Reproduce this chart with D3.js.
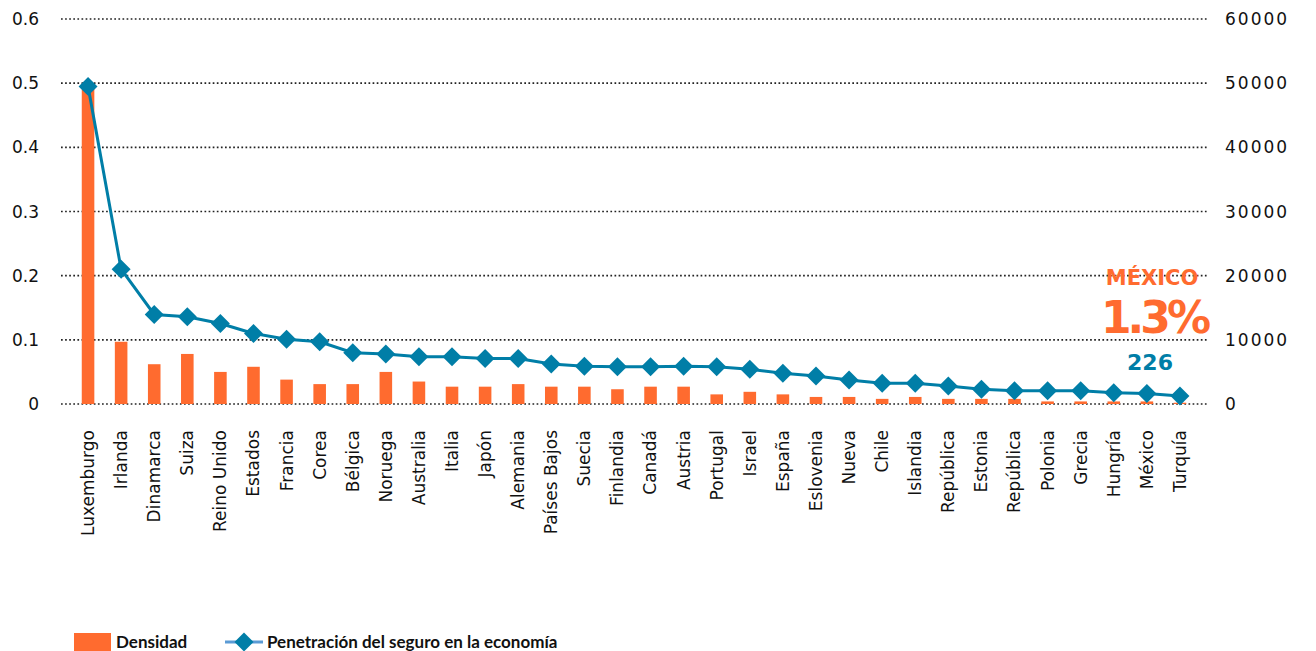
<!DOCTYPE html>
<html lang="es">
  <head>
    <meta charset="utf-8">
    <title>Densidad y penetración del seguro</title>
    <style>
      body { margin: 0; background: #fff; }
      svg { display: block; font-family: "DejaVu Sans", sans-serif; }
      .grid line { stroke: #222; stroke-width: 1.7px; stroke-dasharray: 1.7 2.4; }
      .tick-label { font-size: 17px; fill: #111; }
      .cat-label { font-size: 17px; fill: #111; }
      .legend text { font-family: Lato, sans-serif; font-size: 17px; font-weight: bold; fill: #111; }
    </style>
  </head>
  <body>
    <svg id="chart"></svg>

    <script src="https://cdn.jsdelivr.net/npm/d3@7"></script>
    <script>
      // ---- data ----
      var paises = ["Luxemburgo", "Irlanda", "Dinamarca", "Suiza", "Reino Unido", "Estados",
        "Francia", "Corea", "Bélgica", "Noruega", "Australia", "Italia", "Japón", "Alemania",
        "Países Bajos", "Suecia", "Finlandia", "Canadá", "Austria", "Portugal", "Israel",
        "España", "Eslovenia", "Nueva", "Chile", "Islandia", "República", "Estonia",
        "República ", "Polonia", "Grecia", "Hungría", "México", "Turquía"];

      // bars, left axis
      var densidad = [0.497, 0.097, 0.062, 0.078, 0.050, 0.058, 0.038, 0.031, 0.031, 0.050,
        0.035, 0.027, 0.027, 0.031, 0.027, 0.027, 0.023, 0.027, 0.027, 0.015, 0.019,
        0.015, 0.011, 0.011, 0.008, 0.011, 0.008, 0.008, 0.008, 0.004, 0.004, 0.004,
        0.004, 0.002];

      // line, right axis
      var penetracion = [49500, 21000, 13950, 13600, 12550, 11000, 10100, 9700, 8000, 7800,
        7350, 7350, 7100, 7100, 6250, 5900, 5800, 5800, 5900, 5800, 5400, 4800, 4350,
        3750, 3250, 3250, 2800, 2300, 2050, 2050, 2050, 1750, 1650, 1250];

      var leftTicks = [0, 0.1, 0.2, 0.3, 0.4, 0.5, 0.6];
      var rightTicks = [0, 10000, 20000, 30000, 40000, 50000, 60000];

      var naranja = "#ff6b2f",
          azul = "#007ea7";

      var width = 1316, height = 651;

      var svg = d3.select("#chart")
          .attr("width", width)
          .attr("height", height);

      var x = d3.scaleBand()
          .domain(paises)
          .range([71.5, 1196.5])
          .paddingInner(0.62)
          .paddingOuter(0.31);

      var yL = d3.scaleLinear().domain([0, 0.6]).range([404, 19]);
      var yR = d3.scaleLinear().domain([0, 60000]).range([404, 19]);

      // gridlines
      svg.append("g").attr("class", "grid")
        .selectAll("line")
        .data(leftTicks)
        .enter().append("line")
        .attr("x1", 61).attr("x2", 1208)
        .attr("y1", function(d) { return yL(d); })
        .attr("y2", function(d) { return yL(d); });

      // left axis labels
      svg.append("g")
        .selectAll("text")
        .data(leftTicks)
        .enter().append("text")
        .attr("class", "tick-label")
        .attr("x", 39)
        .attr("y", function(d) { return yL(d); })
        .attr("dy", "0.36em")
        .attr("text-anchor", "end")
        .text(function(d) { return d === 0 ? "0" : d3.format(".1f")(d); });

      // right axis labels
      svg.append("g")
        .selectAll("text")
        .data(rightTicks)
        .enter().append("text")
        .attr("class", "tick-label")
        .attr("x", 1225)
        .attr("y", function(d) { return yR(d); })
        .attr("dy", "0.36em")
        .attr("letter-spacing", "2")
        .text(function(d) { return d; });

      // bars
      svg.append("g")
        .selectAll("rect")
        .data(densidad)
        .enter().append("rect")
        .attr("x", function(d, i) { return x(paises[i]); })
        .attr("width", x.bandwidth())
        .attr("y", function(d) { return yL(d); })
        .attr("height", function(d) { return yL(0) - yL(d); })
        .attr("fill", naranja);

      var cx = function(i) { return x(paises[i]) + x.bandwidth() / 2; };

      // line
      var line = d3.line()
          .x(function(d, i) { return cx(i); })
          .y(function(d) { return yR(d); });

      svg.append("path")
        .datum(penetracion)
        .attr("d", line)
        .attr("fill", "none")
        .attr("stroke", azul)
        .attr("stroke-width", 3);

      var diamond = d3.symbol().type(d3.symbolDiamond2).size(230);

      svg.append("g")
        .selectAll("path")
        .data(penetracion)
        .enter().append("path")
        .attr("d", diamond)
        .attr("transform", function(d, i) { return "translate(" + cx(i) + "," + yR(d) + ")"; })
        .attr("fill", azul);

      // category labels
      svg.append("g")
        .selectAll("text")
        .data(paises)
        .enter().append("text")
        .attr("class", "cat-label")
        .attr("text-anchor", "end")
        .attr("dy", "0.35em")
        .attr("transform", function(d, i) { return "translate(" + cx(i) + ",430) rotate(-90)"; })
        .text(function(d) { return d.trim(); });

      // México annotation
      var ann = svg.append("g").attr("font-weight", "bold").attr("text-anchor", "middle");
      ann.append("text").attr("x", 1152).attr("y", 285)
        .attr("font-size", 21).attr("fill", naranja).text("MÉXICO");
      ann.append("text").attr("x", 1154).attr("y", 333)
        .attr("font-size", 44).attr("letter-spacing", "-4").attr("fill", naranja).text("1.3%");
      ann.append("text").attr("x", 1150).attr("y", 370)
        .attr("font-size", 22).attr("fill", azul).text("226");

      // legend
      var legend = svg.append("g").attr("class", "legend");
      legend.append("rect")
        .attr("x", 74).attr("y", 633).attr("width", 37).attr("height", 18)
        .attr("fill", naranja);
      legend.append("text").attr("x", 116).attr("y", 648).text("Densidad");
      legend.append("line")
        .attr("x1", 225).attr("x2", 263).attr("y1", 642).attr("y2", 642)
        .attr("stroke", "#5b9bd5").attr("stroke-width", 3);
      legend.append("path")
        .attr("d", diamond)
        .attr("transform", "translate(244,642)")
        .attr("fill", azul);
      legend.append("text").attr("x", 267).attr("y", 648).text("Penetración del seguro en la economía");
    </script>
  </body>
</html>
